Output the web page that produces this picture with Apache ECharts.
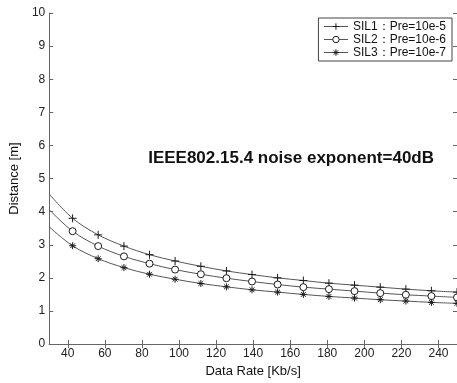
<!DOCTYPE html>
<html><head><meta charset="utf-8">
<script src="https://cdn.jsdelivr.net/npm/echarts@6/dist/echarts.min.js"></script>
<style>html,body{margin:0;padding:0;background:#fff}#c{width:457px;height:383px}</style>
</head><body><div id="c"></div>
<script>
// x values: left edge, then marker positions
const rates = [30, 42.6, 56.4, 70.3, 84.1, 97.9, 111.8, 125.6, 139.4, 153.2, 167.1, 180.9, 194.7, 208.6, 222.4, 236.2, 250.0];
const sil1 = [4.53, 3.80, 3.30, 2.96, 2.70, 2.51, 2.35, 2.21, 2.10, 2.00, 1.92, 1.84, 1.78, 1.72, 1.66, 1.61, 1.57];
const sil2 = [4.06, 3.41, 2.96, 2.65, 2.43, 2.25, 2.11, 1.99, 1.89, 1.80, 1.72, 1.66, 1.60, 1.54, 1.49, 1.45, 1.41];
const sil3 = [3.54, 2.97, 2.58, 2.31, 2.11, 1.96, 1.83, 1.73, 1.64, 1.57, 1.50, 1.44, 1.39, 1.34, 1.30, 1.26, 1.23];
const names = ['SIL1：Pre=10e-5', 'SIL2：Pre=10e-6', 'SIL3：Pre=10e-7'];
const xTicks = [40, 60, 80, 100, 120, 140, 160, 180, 200, 220, 240];
const annotation = 'IEEE802.15.4 noise exponent=40dB';

const plusSym = 'path://M0,5H10M5,0V10';
const circSym = 'path://M10,5A5,5 0 1,1 0,5A5,5 0 1,1 10,5Z';
const starSym = 'path://M0,5H10M5,0V10M1.6,1.6L8.4,8.4M8.4,1.6L1.6,8.4';
const font = 'Arial, "Liberation Sans", sans-serif';

function mk(vals) {
  return vals.map((v, i) => i === 0 ? { value: [rates[i], v], symbol: 'none' } : [rates[i], v]);
}
function series(name, vals, sym, size, fill) {
  return {
    name, type: 'line', data: mk(vals), smooth: 0.35,
    symbol: sym, symbolSize: size, showSymbol: true, showAllSymbol: true, clip: false,
    lineStyle: { color: '#555', width: 1, type: 'solid' },
    itemStyle: { color: fill, borderColor: '#1a1a1a', borderWidth: 1 },
    emphasis: { disabled: true }, animation: false
  };
}
const axisLine = { show: true, lineStyle: { color: '#666', width: 1 } };
const chart = echarts.init(document.getElementById('c'));
chart.setOption({
  animation: false,
  grid: { left: 39, top: 13, right: 0, bottom: 27, containLabel: false },
  legend: {
    orient: 'vertical', right: 5, top: 18, padding: [2, 6, 2, 5], itemGap: 0,
    itemWidth: 24, itemHeight: 8,
    backgroundColor: '#fff', borderColor: '#444', borderWidth: 1,
    lineStyle: { color: '#555', width: 1, type: 'solid' },
    itemStyle: { borderWidth: 1, borderColor: '#1a1a1a' },
    textStyle: { fontFamily: font, fontSize: 12, color: '#111', lineHeight: 13 },
    data: names
  },
  xAxis: [
    { type: 'value', min: 30, max: 250, position: 'bottom',
      name: 'Data Rate [Kb/s]', nameLocation: 'middle', nameGap: 16,
      nameTextStyle: { fontFamily: font, fontSize: 13, color: '#111' },
      axisLine, splitLine: { show: false },
      axisTick: { inside: true, length: 4, customValues: xTicks, lineStyle: { color: '#666' } },
      axisLabel: { customValues: xTicks, fontFamily: font, fontSize: 12, color: '#222', margin: 4 } },
    { type: 'value', min: 30, max: 250, position: 'top',
      axisLine, splitLine: { show: false },
      axisTick: { inside: true, length: 4, customValues: xTicks, lineStyle: { color: '#666' } },
      axisLabel: { show: false } }
  ],
  yAxis: [
    { type: 'value', min: 0, max: 10, interval: 1, position: 'left',
      name: 'Distance [m]', nameLocation: 'middle', nameGap: 21,
      nameTextStyle: { fontFamily: font, fontSize: 13, color: '#111' },
      axisLine, splitLine: { show: false },
      axisTick: { inside: true, length: 4, lineStyle: { color: '#666' } },
      axisLabel: { fontFamily: font, fontSize: 12, color: '#222', margin: 4 } },
    { type: 'value', min: 0, max: 10, interval: 1, position: 'right',
      axisLine, splitLine: { show: false },
      axisTick: { inside: true, length: 4, lineStyle: { color: '#666' } },
      axisLabel: { show: false } }
  ],
  graphic: [{
    type: 'text', right: 23, top: 150, z: 10,
    style: { text: annotation, fontFamily: font, fontWeight: 'bold', fontSize: 17, fill: '#111' }
  }],
  series: [
    series(names[0], sil1, plusSym, 8, 'rgba(0,0,0,0)'),
    series(names[1], sil2, circSym, 7, '#fff'),
    series(names[2], sil3, starSym, 7, 'rgba(0,0,0,0)')
  ]
});
</script></body></html>
